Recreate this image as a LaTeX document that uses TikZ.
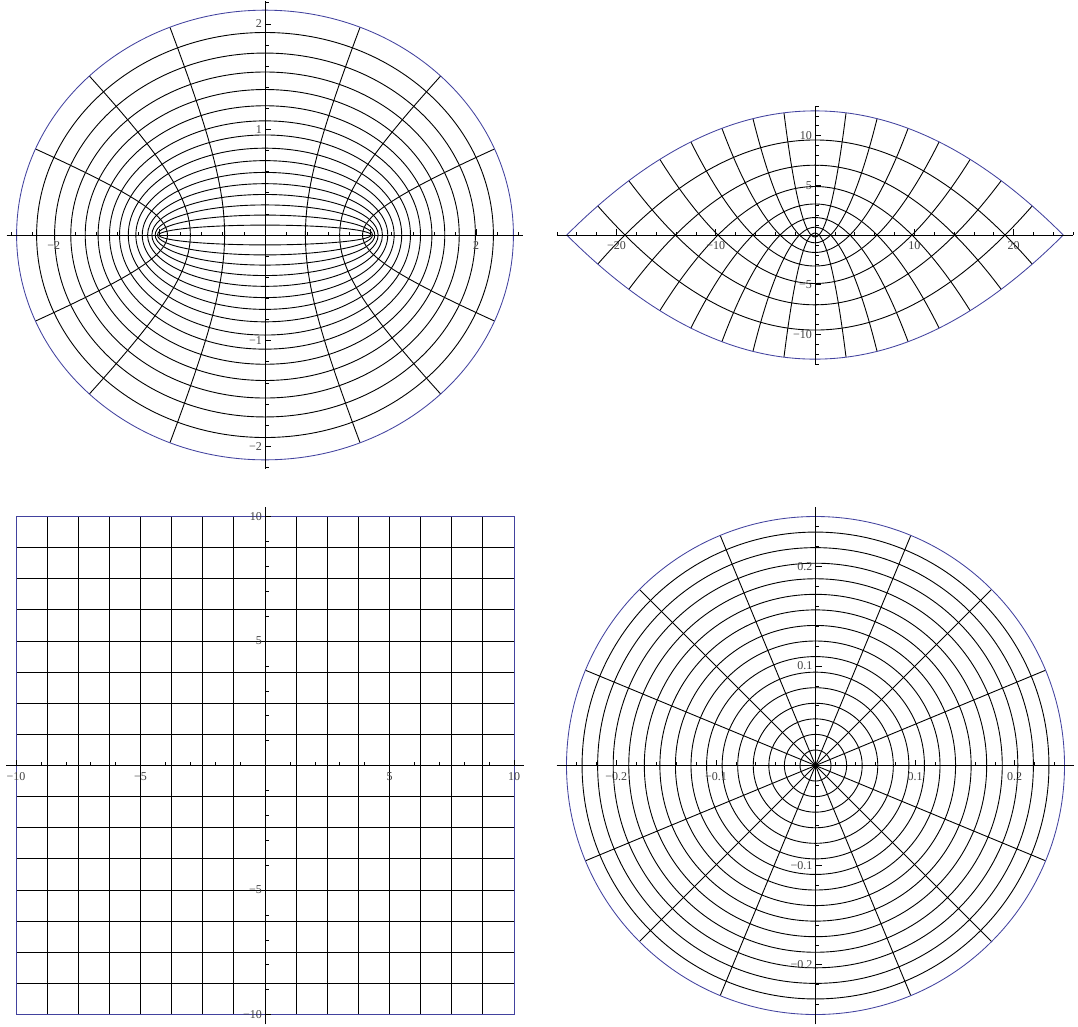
\documentclass[tikz,border=0pt]{standalone}
\usepackage{fontspec}
\setmainfont{Liberation Serif}
\definecolor{mblue}{rgb}{0.26,0.26,0.62}
\begin{document}
\begin{tikzpicture}[x=1pt,y=-1pt,
  gridl/.style={line width=0.9pt, black},
  bnd/.style={line width=0.85pt, mblue},
  axisl/.style={line width=0.95pt, black},
  tickl/.style={line width=0.6pt, black},
  xlbl/.style={font=\fontsize{12}{12}\selectfont, text=black!75, inner sep=0pt, anchor=north, yshift=-6.5pt},
  ylbl/.style={font=\fontsize{12}{12}\selectfont, text=black!75, inner sep=0pt, anchor=east, xshift=-3pt}]
\useasboundingbox (0,0) rectangle (1078,1026);

% ---------------- Panel 1: elliptic coordinates ----------------
\begin{scope}[shift={(265,235)}, x=105.6pt, y=105.6pt]
  \foreach \k in {1,...,15} {
    \pgfmathsetmacro\cm{cosh(\k*0.09375)}
    \pgfmathsetmacro\sm{sinh(\k*0.09375)}
    \draw[gridl] (0,0) ellipse [x radius=\cm, y radius=\sm];
  }
  \foreach \nn in {22.5,45,67.5,112.5,135,157.5,202.5,225,247.5,292.5,315,337.5} {
    \draw[gridl] plot[domain=0:1.5, samples=40, smooth] ({cosh(\x)*cos(\nn)}, {sinh(\x)*sin(\nn)});
  }
  \pgfmathsetmacro\cmax{cosh(1.5)}
  \pgfmathsetmacro\smax{sinh(1.5)}
  \draw[bnd] (0,0) ellipse [x radius=\cmax, y radius=\smax];
  \coordinate (p1xl) at (-2.446,0);
  \coordinate (p1xr) at (2.446,0);
  \coordinate (p1yb) at (0,-2.215);
  \coordinate (p1yt) at (0,2.215);
  \draw[axisl] (p1xl) -- (p1xr);
  \draw[axisl] (p1yb) -- (p1yt);
  \foreach \i in {-12,...,12} \draw[tickl] ({\i*0.2},0) -- ++(0pt,3.5pt);
  \foreach \i in {-11,...,11} \draw[tickl] (0,{\i*0.2}) -- ++(3.5pt,0pt);
  \foreach \i in {-2,-1,1,2} {
    \draw[tickl] (\i,0) -- ++(0pt,6pt);
    \draw[tickl] (0,\i) -- ++(6pt,0pt);
  }
  \node[xlbl] (p1xm2) at (-2,0) {−2};
  \node[xlbl] (p1x2) at (2,0) {2};
  \node[ylbl] (p1y2) at (0,2) {2};
  \node[ylbl] (p1y1) at (0,1) {1};
  \node[ylbl] (p1ym1) at (0,-1) {−1};
  \node[ylbl] (p1ym2) at (0,-2) {−2};
\end{scope}

% ---------------- Panel 2: parabolic coordinates ----------------
\begin{scope}[shift={(815,235)}, x=9.93pt, y=9.93pt]
  \foreach \k in {1,...,7} {
    \pgfmathsetmacro\tt{\k*0.625}
    \draw[gridl] plot[domain=-5:5, samples=60, smooth] ({\x*\tt}, {(\tt*\tt-\x*\x)/2});
  }
  \foreach \k in {-7,...,7} {
    \pgfmathsetmacro\ss{\k*0.625}
    \draw[gridl] plot[domain=0:5, samples=40, smooth] ({\ss*\x}, {(\x*\x-\ss*\ss)/2});
  }
  \draw[bnd] plot[domain=-5:5, samples=80, smooth] ({5*\x}, {(25-\x*\x)/2});
  \draw[bnd] plot[domain=0:5, samples=50, smooth] ({5*\x}, {(\x*\x-25)/2});
  \draw[bnd] plot[domain=0:5, samples=50, smooth] ({-5*\x}, {(\x*\x-25)/2});
  \coordinate (p2xl) at (-26,0);
  \coordinate (p2xr) at (26,0);
  \coordinate (p2yb) at (0,-13);
  \coordinate (p2yt) at (0,13);
  \draw[axisl] (p2xl) -- (p2xr);
  \draw[axisl] (p2yb) -- (p2yt);
  \foreach \i in {-13,...,13} \draw[tickl] ({\i*2},0) -- ++(0pt,3.5pt);
  \foreach \i in {-13,...,13} \draw[tickl] (0,\i) -- ++(3.5pt,0pt);
  \foreach \i in {-20,-10,10,20} \draw[tickl] (\i,0) -- ++(0pt,6pt);
  \foreach \i in {-10,-5,5,10} \draw[tickl] (0,\i) -- ++(6pt,0pt);
  \node[xlbl] (p2xm20) at (-20,0) {−20};
  \node[xlbl] (p2xm10) at (-10,0) {−10};
  \node[xlbl] (p2x10) at (10,0) {10};
  \node[xlbl] (p2x20) at (20,0) {20};
  \node[ylbl] (p2y10) at (0,10) {10};
  \node[ylbl] (p2y5) at (0,5) {5};
  \node[ylbl] (p2ym5) at (0,-5) {−5};
  \node[ylbl] (p2ym10) at (0,-10) {−10};
\end{scope}

% ---------------- Panel 3: Cartesian grid ----------------
\begin{scope}[shift={(265,765.5)}, x=24.9pt, y=24.9pt]
  \foreach \k in {1,...,15} {
    \pgfmathsetmacro\cc{-10+1.25*\k}
    \draw[gridl] (\cc,-10) -- (\cc,10);
    \draw[gridl] (-10,\cc) -- (10,\cc);
  }
  \draw[bnd] (-10,-10) rectangle (10,10);
  \coordinate (p3xl) at (-10.4,0);
  \coordinate (p3xr) at (10.4,0);
  \coordinate (p3yb) at (0,-10.4);
  \coordinate (p3yt) at (0,10.4);
  \draw[axisl] (p3xl) -- (p3xr);
  \draw[axisl] (p3yb) -- (p3yt);
  \foreach \i in {-10,...,10} {
    \draw[tickl] (\i,0) -- ++(0pt,3.5pt);
    \draw[tickl] (0,\i) -- ++(3.5pt,0pt);
  }
  \foreach \i in {-10,-5,5,10} {
    \draw[tickl] (\i,0) -- ++(0pt,6pt);
    \draw[tickl] (0,\i) -- ++(6pt,0pt);
  }
  \node[xlbl] (p3xm10) at (-10,0) {−10};
  \node[xlbl] (p3xm5) at (-5,0) {−5};
  \node[xlbl] (p3x5) at (5,0) {5};
  \node[xlbl] (p3x10) at (10,0) {10};
  \node[ylbl] (p3y10) at (0,10) {10};
  \node[ylbl] (p3y5) at (0,5) {5};
  \node[ylbl] (p3ym5) at (0,-5) {−5};
  \node[ylbl] (p3ym10) at (0,-10) {−10};
\end{scope}

% ---------------- Panel 4: polar coordinates ----------------
\begin{scope}[shift={(815.5,765.5)}, x=996pt, y=996pt]
  \foreach \k in {1,...,15} {
    \pgfmathsetmacro\rr{\k/64}
    \draw[gridl] (0,0) circle [radius=\rr];
  }
  \foreach \k in {0,...,15} {
    \draw[gridl] (0,0) -- ({\k*22.5}:0.25);
  }
  \draw[bnd] (0,0) circle [radius=0.25];
  \coordinate (p4xl) at (-0.26,0);
  \coordinate (p4xr) at (0.26,0);
  \coordinate (p4yb) at (0,-0.26);
  \coordinate (p4yt) at (0,0.26);
  \draw[axisl] (p4xl) -- (p4xr);
  \draw[axisl] (p4yb) -- (p4yt);
  \foreach \i in {-12,...,12} {
    \draw[tickl] ({\i*0.02},0) -- ++(0pt,3.5pt);
    \draw[tickl] (0,{\i*0.02}) -- ++(3.5pt,0pt);
  }
  \foreach \i in {-0.2,-0.1,0.1,0.2} {
    \draw[tickl] (\i,0) -- ++(0pt,6pt);
    \draw[tickl] (0,\i) -- ++(6pt,0pt);
  }
  \node[xlbl] (p4xm2) at (-0.2,0) {−0.2};
  \node[xlbl] (p4xm1) at (-0.1,0) {−0.1};
  \node[xlbl] (p4x1) at (0.1,0) {0.1};
  \node[xlbl] (p4x2) at (0.2,0) {0.2};
  \node[ylbl] (p4y2) at (0,0.2) {0.2};
  \node[ylbl] (p4y1) at (0,0.1) {0.1};
  \node[ylbl] (p4ym1) at (0,-0.1) {−0.1};
  \node[ylbl] (p4ym2) at (0,-0.2) {−0.2};
\end{scope}
\end{tikzpicture}
\end{document}
